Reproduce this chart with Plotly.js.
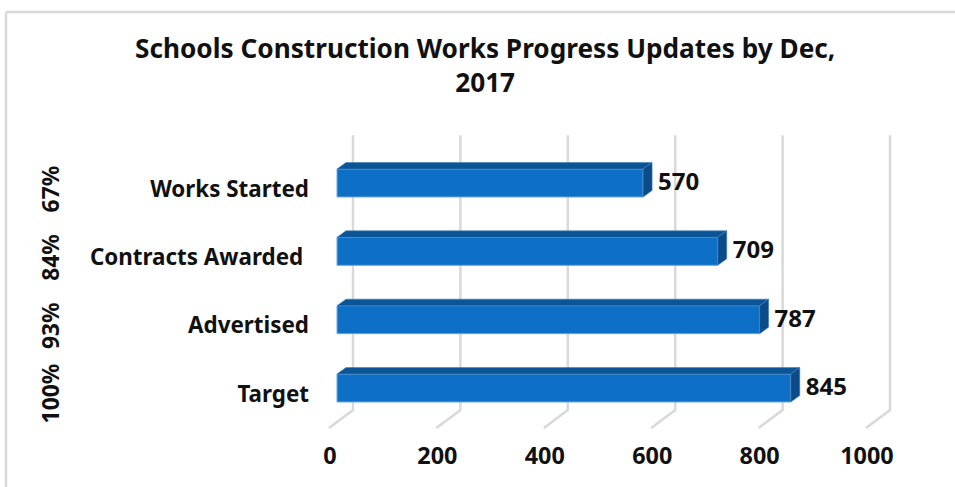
<!DOCTYPE html>
<html><head><meta charset="utf-8">
<script src="https://cdn.plot.ly/plotly-3.0.1.min.js"></script>
<style>html,body{margin:0;padding:0;background:#fff}</style></head>
<body><div id="c" style="width:955px;height:487px"></div>
<script>
const categories = ["Target","Advertised","Contracts Awarded ","Works Started"];
const values = [845,787,709,570];
const percents = ["100%","93%","84%","67%"];
const ticks = [0,200,400,600,800,1000];

// 3D illusion offsets, in axis units
const pxX = 0.537, pxY = 68.33;
const dx = 9/pxX, dy = 6.5/pxY, half = 14/pxY;
const wallX = 16/pxX, floorX = 8/pxX, labelX = 7/pxX, gap = 6/pxX;
const wallTop = 3.70, wallBottom = -0.322, floorBottom = -0.585;
const ys = categories.map((_, i) => i);
const font = 'Noto Sans, sans-serif';

const traces = [];
traces.push({
  type:'bar', orientation:'h', y:ys, x:values, width:2*half, showlegend:false,
  marker:{color:'#0e6fc7', line:{color:'#6fa8dc', width:1}},
  textposition:'none', hoverinfo:'x+y'
});
values.forEach((v,i) => {
  traces.push({type:'scatter', mode:'lines', fill:'toself', fillcolor:'#0b5496', hoverinfo:'skip', showlegend:false,
    x:[0, v, v+dx, dx, 0], y:[i+half, i+half, i+half+dy, i+half+dy, i+half],
    line:{color:'#3f7fbd', width:0.6}});
  traces.push({type:'scatter', mode:'lines', fill:'toself', fillcolor:'#0b4c88', hoverinfo:'skip', showlegend:false,
    x:[v, v+dx, v+dx, v, v], y:[i+half, i+half+dy, i-half+dy, i-half, i+half],
    line:{color:'#3f7fbd', width:0.6}});
});
traces.push({
  type:'scatter', mode:'text', x:values.map(v => v+dx+gap), y:ys.map(y => y-0.015), text:values.map(String),
  textposition:'middle right', cliponaxis:false, showlegend:false, hoverinfo:'skip',
  textfont:{family:font, size:24, color:'#111', weight:'bold'}
});

const annotations = percents.map((p,i) => ({
  xref:'paper', x:-0.452, yref:'y', y:i-0.085, text:'<b>'+p+'</b>', textangle:-90, showarrow:false,
  font:{family:font, size:22.8, color:'#111'}, xanchor:'center', yanchor:'middle'
}));

const wall = ticks.map(t => ({
  type:'path', xref:'x', yref:'y', layer:'below',
  path:`M ${t+wallX} ${wallTop} L ${t+wallX} ${wallBottom} L ${t-floorX} ${floorBottom}`,
  line:{color:'#d9d9d9', width:2.5}
}));

const layout = {
  width:955, height:487, paper_bgcolor:'#fff', plot_bgcolor:'rgba(0,0,0,0)',
  margin:{l:315, r:55, t:120, b:47}, showlegend:false, barmode:'overlay',
  title:{text:'<b>Schools Construction Works Progress Updates by Dec,<br>2017</b>',
    font:{family:font, size:26.2, color:'#111'}, x:0.508, xanchor:'center', y:0.881, yanchor:'middle'},
  xaxis:{range:[-22/pxX, (900-337)/pxX], showgrid:false, zeroline:false, showline:false,
    tickmode:'array', tickvals:ticks.map(t => t-labelX), ticktext:ticks.map(String), ticks:'',
    tickfont:{family:font, size:23.4, color:'#111', weight:'bold'}, tickangle:0, automargin:false, fixedrange:true},
  yaxis:{range:[-0.761,3.922], showgrid:false, zeroline:false, showline:false,
    tickmode:'array', tickvals:ys.map(y => y-0.085), ticktext:categories.map(c => '<b>'+c+'</b>'), ticks:'',
    ticklabelstandoff:5,
    tickfont:{family:font, size:22.4, color:'#111'}, automargin:false, fixedrange:true},
  annotations,
  shapes:wall.concat([
    {type:'line', xref:'paper', yref:'paper', x0:-0.5282, x1:-0.5282, y0:-0.2, y1:1.3375, line:{color:'#d9d9d9', width:2.5}},
    {type:'line', xref:'paper', yref:'paper', x0:-0.5282, x1:1.1, y0:1.3375, y1:1.3375, line:{color:'#d9d9d9', width:2.5}}
  ])
};
Plotly.newPlot('c', traces, layout, {displayModeBar:false, staticPlot:true});
</script></body></html>
